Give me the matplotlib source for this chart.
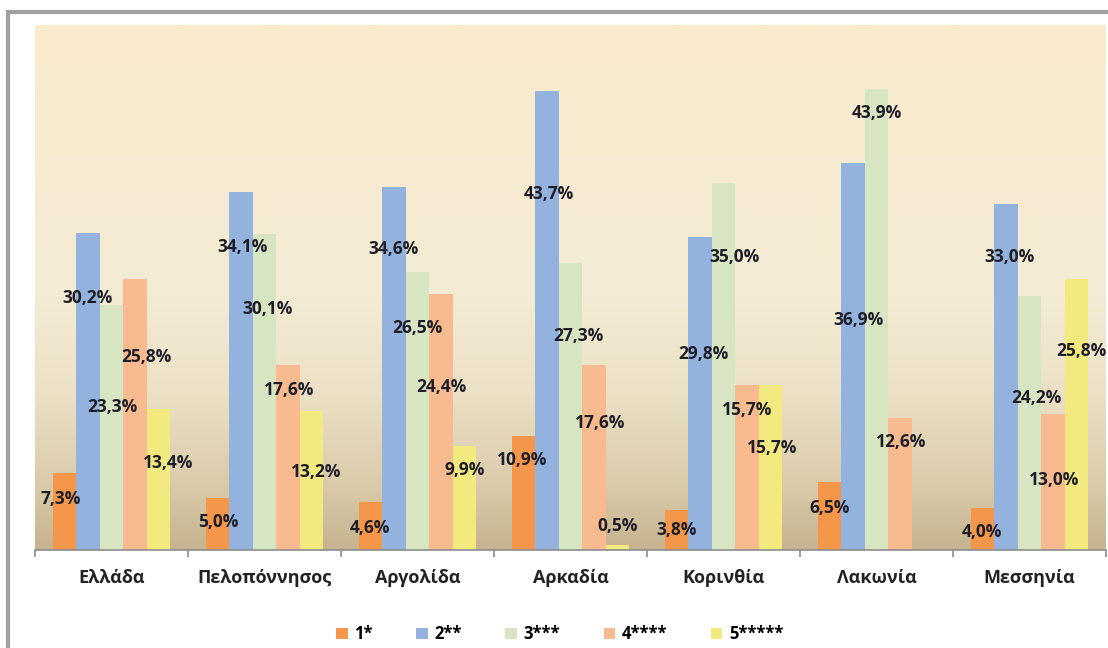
import numpy as np
import matplotlib.pyplot as plt
from matplotlib.colors import LinearSegmentedColormap
from matplotlib.patches import Rectangle

plt.rcParams['font.family'] = ['Open Sans', 'DejaVu Sans']

# δεδομένα (% ανά κατηγορία αστέρων)
regions = ['Ελλάδα', 'Πελοπόννησος', 'Αργολίδα', 'Αρκαδία', 'Κορινθία', 'Λακωνία', 'Μεσσηνία']
series = ['1*', '2**', '3***', '4****', '5*****']
star1 = [7.3, 5.0, 4.6, 10.9, 3.8, 6.5, 4.0]
star2 = [30.2, 34.1, 34.6, 43.7, 29.8, 36.9, 33.0]
star3 = [23.3, 30.1, 26.5, 27.3, 35.0, 43.9, 24.2]
star4 = [25.8, 17.6, 24.4, 17.6, 15.7, 12.6, 13.0]
star5 = [13.4, 13.2, 9.9, 0.5, 15.7, np.nan, 25.8]
values = [star1, star2, star3, star4, star5]

colors = ['#F4974A', '#93B2DD', '#D7E5C3', '#F8BA8F', '#F2EA7E']

# θέσεις ετικετών (ύψος σε μονάδες άξονα, μετατόπιση x σε πλάτη μπάρας)
label_y = [
    [4.9, 2.7, 2.1, 8.6, 1.9, 4.0, 1.7],
    [24.0, 28.9, 28.7, 33.9, 18.7, 21.9, 27.9],
    [13.6, 23.0, 21.1, 20.4, 27.9, 41.6, 14.5],
    [18.4, 15.2, 15.5, 12.1, 13.3, 10.3, 6.7],
    [8.3, 7.4, 7.6, 2.3, 9.7, 0, 19.0],
]
label_dx = [
    [-0.15, 0.05, 0, -0.05, 0, 0, 0],
    [0, 0.05, 0, 0.1, 0.15, 0.25, 0.15],
    [0.05, 0.15, 0, 0.35, 0.45, 0, 0.3],
    [0.5, 0.05, 0, 0.25, 0, 0.05, 0.05],
    [0.4, 0.2, 0, 0, 0.05, 0, 0.2],
]

fig = plt.figure(figsize=(11.08, 6.48), dpi=100)
fig.patch.set_facecolor('white')
# γκρι περίγραμμα
fig.patches.append(Rectangle((8 / 1108, -0.1), 1.2, (648 - 12) / 648 + 0.1,
                             transform=fig.transFigure, fill=False,
                             edgecolor='#A0A0A0', linewidth=3))

ax = fig.add_axes([35 / 1108, 98 / 648, 1071 / 1108, 525 / 648])
ax.set_xlim(-0.5, len(regions) - 0.5)
ax.set_ylim(0, 50)

# φόντο με διαβάθμιση
cmap = LinearSegmentedColormap.from_list('bg', [
    (0.0, '#C6B38F'), (0.12, '#D9CAA9'), (0.3, '#ECE1C6'),
    (0.5, '#F4ECD5'), (1.0, '#FBEBCD')])
grad = np.linspace(0, 1, 256).reshape(-1, 1)
ax.imshow(grad, aspect='auto', cmap=cmap, origin='lower',
          extent=[-0.5, len(regions) - 0.5, 0, 50], zorder=0)

x = np.arange(len(regions))
w = 0.154
for i, (vals, name, col) in enumerate(zip(values, series, colors)):
    xs = x + (i - 2) * w
    ax.bar(xs, vals, width=w, color=col, label=name, zorder=2)
    for j, v in enumerate(vals):
        if np.isnan(v):
            continue
        ax.text(xs[j] + label_dx[i][j] * w, label_y[i][j], f'{v:.1f}%'.replace('.', ','),
                ha='center', va='center', fontsize=12.5, fontweight='bold',
                color='#1E1E28', zorder=3)

for s in ['top', 'right', 'left']:
    ax.spines[s].set_visible(False)
ax.spines['bottom'].set_color('#8C8C8C')
ax.spines['bottom'].set_linewidth(1.2)
ax.set_yticks([])
ax.set_xticks(np.arange(len(regions) + 1) - 0.5)
ax.set_xticklabels([])
ax.set_xticks(x, minor=True)
ax.set_xticklabels(regions, minor=True, fontsize=13, fontweight='bold', color='#222222')
ax.tick_params(axis='x', which='major', length=5, color='#8C8C8C', width=1.2)
ax.tick_params(axis='x', which='minor', length=0, pad=14)

ax.legend(loc='upper center', bbox_to_anchor=(0.49, -0.115), ncol=5, frameon=False,
          handlelength=0.7, handleheight=0.7, columnspacing=2.6, handletextpad=0.4,
          prop={'weight': 'bold', 'size': 12})

fig.savefig('out.png', dpi=100)
